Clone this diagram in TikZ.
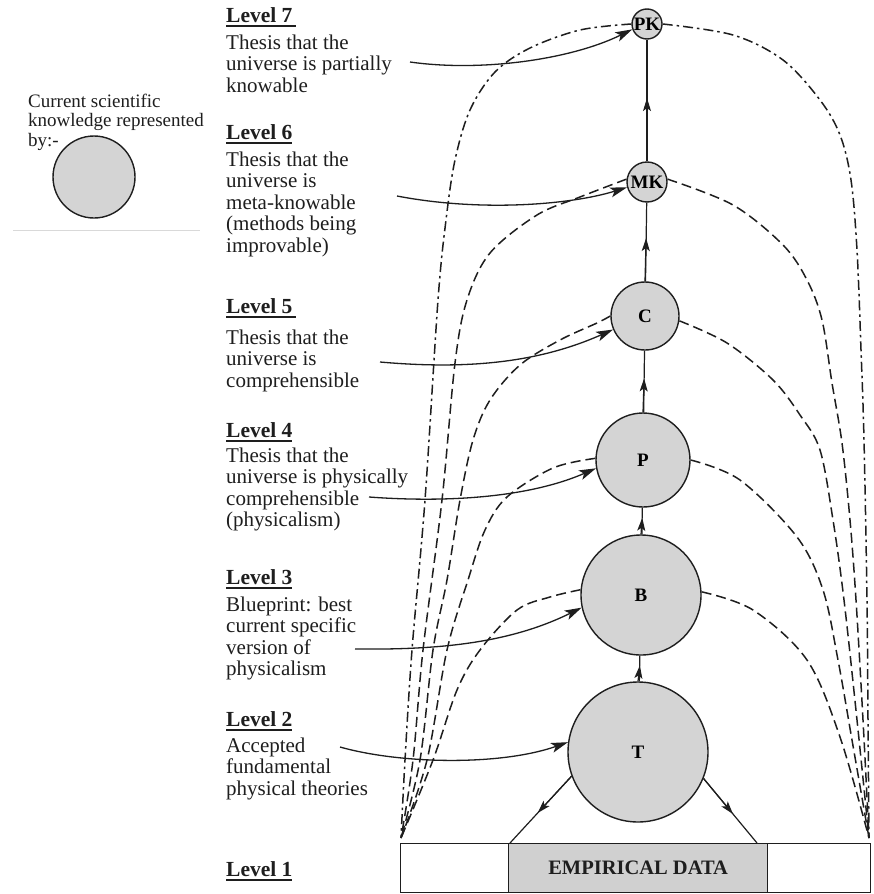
\documentclass[tikz,border=0pt]{standalone}
\usepackage{fontspec}
\setmainfont{Liberation Serif}
\usetikzlibrary{arrows.meta,calc}
\definecolor{fillgray}{HTML}{D4D4D4}
\definecolor{boxgray}{HTML}{D0D0D0}
\definecolor{ink}{HTML}{1E1E1E}
\newcommand{\txtlines}[1]{\vtop{\baselineskip=21.5pt\lineskiplimit=-20pt\halign{##\hfil\cr#1\crcr}}}
\newcommand{\lgdlines}[1]{\vtop{\baselineskip=19.5pt\lineskiplimit=-20pt\halign{##\hfil\cr#1\crcr}}}
\newcommand{\lvul}[1]{\setbox0=\hbox{#1}\leavevmode\rlap{\rule[-5pt]{\wd0}{1.6pt}}\box0}
\begin{document}
\begin{tikzpicture}[x=1pt,y=-1pt,
  every node/.style={inner sep=0pt},
  know/.style={circle,draw=ink,line width=1.4pt,fill=fillgray,
    font=\fontsize{19}{19}\selectfont\bfseries,minimum size=#1},
  lvl/.style={anchor=base west,font=\fontsize{21.5}{21.5}\selectfont\bfseries,text=ink},
  body/.style={anchor=base west,font=\fontsize{21}{21.5}\selectfont,text=ink},
  dsh/.style={draw=ink,line width=1.5pt,dash pattern=on 10pt off 5pt},
  dshdot/.style={draw=ink,line width=1.5pt,dash pattern=on 10pt off 4pt on 2.5pt off 4pt},
  conn/.style={draw=ink,line width=1.2pt},
  tarrow/.style={draw=ink,line width=1.3pt,-{Stealth[length=17pt,width=10pt,inset=4pt]}},
  tipseg/.style={draw=ink,line width=1.2pt,-{Stealth[length=13pt,width=8pt,inset=3pt]}}
]
\useasboundingbox[fill=white] (0,0) rectangle (873,894);

% legend
\node[anchor=base west,font=\fontsize{19}{19}\selectfont,text=ink] (lgd) at (28,107)
  {\lgdlines{Current scientific\cr knowledge represented\cr by:-}};
\node[know=82pt] (lgc) at (94,177) {};
\draw[line width=1pt,draw=black!15] (13,230) -- (200,230);

% knowledge circles
\node[know=140pt] (T) at (638,752) {T};
\node[know=120pt] (B) at (641,595) {B};
\node[know=94pt] (P) at (643,460) {P};
\node[know=68pt] (C) at (645,316) {C};
\node[know=40pt] (MK) at (647,182) {MK};
\node[know=30pt] (PK) at (647,24) {PK};

% empirical data box
\node[draw=ink,line width=1.3pt,anchor=north west,minimum width=470pt,minimum height=49pt] (box) at (400,843) {};
\node[draw=ink,line width=1.3pt,fill=boxgray,anchor=north west,minimum width=259pt,minimum height=49pt,
  font=\fontsize{20.5}{20.5}\selectfont\bfseries,text=ink] (emp) at (508,843) {EMPIRICAL DATA};

\coordinate (L) at (401,838);
\coordinate (R) at (869,838);
\coordinate (bl) at (510,843);
\coordinate (br) at (757,843);

% vertical connectors with mid arrows
\draw[conn] (T) -- (B);
\draw[tipseg] (T.north) -- ($(T.north)!0.62!(B.south)$);
\draw[conn] (B) -- (P);
\draw[tipseg] (B.north) -- ($(B.north)!0.62!(P.south)$);
\draw[conn] (P) -- (C);
\draw[tipseg] (P.north) -- ($(P.north)!0.55!(C.south)$);
\draw[conn] (C) -- (MK);
\draw[tipseg] (C.north) -- ($(C.north)!0.55!(MK.south)$);
\draw[conn] (MK) -- (PK);
\draw[tipseg] (MK.north) -- ($(MK.north)!0.52!(PK.south)$);
\draw[conn] (T.200) -- (bl);
\draw[tipseg] (T.200) -- ($(T.200)!0.55!(bl)$);
\draw[conn] (T.338) -- (br);
\draw[tipseg] (T.338) -- ($(T.338)!0.55!(br)$);

% dashed curves, left
\draw[dshdot] plot[smooth,tension=0.55] coordinates {(PK.180) (580,30) (530,48) (495,72) (470,110) (455,160) (446,220) (438,300) (425,500) (412,650) (405,760) (L)};
\draw[dsh] plot[smooth,tension=0.55] coordinates {(MK.172) (580,197) (537,215) (490,253) (467,300) (455,363) (442,500) (423,650) (413,760) (L)};
\draw[dsh] plot[smooth,tension=0.55] coordinates {(C.180) (597,323) (560,340) (520,365) (490,400) (473,440) (460,500) (447,580) (433,650) (420,760) (L)};
\draw[dsh] plot[smooth,tension=0.55] coordinates {(P.178) (553,468) (507,497) (485,530) (468,580) (447,650) (427,760) (L)};
\draw[dsh] plot[smooth,tension=0.55] coordinates {(B.175) (550,597) (517,610) (480,650) (457,690) (433,760) (L)};

% dashed curves, right
\draw[dshdot] plot[smooth,tension=0.55] coordinates {(PK.0) (733,35) (783,60) (820,100) (840,135) (851,180) (857,250) (861,350) (864,440) (867,600) (868,720) (R)};
\draw[dsh] plot[smooth,tension=0.55] coordinates {(MK.8) (733,205) (783,245) (807,280) (822,320) (832,383) (842,443) (850,520) (856,600) (863,720) (R)};
\draw[dsh] plot[smooth,tension=0.55] coordinates {(C.-8) (727,343) (773,380) (800,415) (820,450) (833,520) (844,600) (857,720) (R)};
\draw[dsh] plot[smooth,tension=0.55] coordinates {(P.0) (740,480) (797,537) (823,590) (838,660) (852,740) (R)};
\draw[dsh] plot[smooth,tension=0.55] coordinates {(B.3) (753,610) (807,660) (840,737) (R)};

% level texts
\node[lvl] (l7) at (226,22) {\lvul{Level 7\,}};
\node[body] (t7) at (226,49) {\txtlines{Thesis that the\cr universe is partially\cr knowable}};
\node[lvl] (l6) at (226,139) {\lvul{Level 6}};
\node[body] (t6) at (226,166) {\txtlines{Thesis that the\cr universe is\cr meta-knowable\cr (methods being\cr improvable)}};
\node[lvl] (l5) at (226,313) {\lvul{Level 5\,}};
\node[body] (t5) at (226,344) {\txtlines{Thesis that the\cr universe is\cr comprehensible}};
\node[lvl] (l4) at (226,437) {\lvul{Level 4}};
\node[body] (t4) at (226,462) {\txtlines{Thesis that the\cr universe is physically\cr comprehensible\cr (physicalism)}};
\node[lvl] (l3) at (226,584) {\lvul{Level 3}};
\node[body] (t3) at (226,611) {\txtlines{Blueprint: best\cr current specific\cr version of\cr physicalism}};
\node[lvl] (l2) at (226,726) {\lvul{Level 2}};
\node[body] (t2) at (226,752) {\txtlines{Accepted\cr fundamental\cr physical theories}};
\node[lvl] (l1) at (226,876) {\lvul{Level 1}};

% text arrows
\coordinate (a7) at (410,62);
\coordinate (a6) at (397,196);
\coordinate (a5) at (380,362);
\coordinate (a4) at (369,497);
\coordinate (a3) at (355,649);
\coordinate (a2) at (340,747);
\draw[tarrow] (a7) .. controls (480,72) and (570,60) .. (PK.200);
\draw[tarrow] (a6) .. controls (480,212) and (570,205) .. (MK.195);
\draw[tarrow] (a5) .. controls (470,370) and (540,362) .. (C.203);
\draw[tarrow] (a4) .. controls (450,503) and (530,497) .. (P.190);
\draw[tarrow] (a3) .. controls (440,650) and (510,643) .. (B.192);
\draw[tarrow] (a2) .. controls (400,764) and (500,766) .. (T.172);
\end{tikzpicture}
\end{document}
